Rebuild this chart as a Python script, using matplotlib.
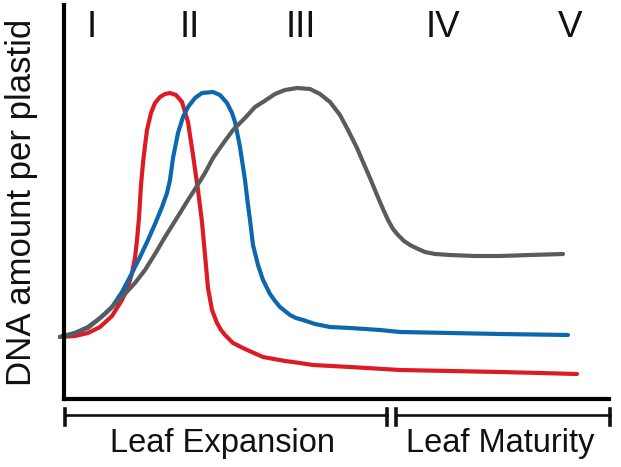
import matplotlib.pyplot as plt

plt.rcParams['font.family'] = ['Liberation Sans', 'DejaVu Sans']

# leaf age (arbitrary units) vs DNA amount per plastid (arbitrary units)
red_x = [60, 75, 88, 100, 112, 122, 128, 132, 135, 137, 139, 141, 143, 145, 147, 151, 155, 160, 165, 170,
         176, 182, 188, 193, 198, 202, 205, 208, 212, 217, 221, 225, 229, 233, 239, 245, 254, 263, 274, 285,
         300, 313, 350, 400, 450, 500, 540, 577]
red_y = [62, 63, 66, 72, 83, 99, 112, 126, 141, 159, 181, 214, 236, 253, 269, 286, 296, 302, 305, 306,
         304, 297, 277, 244, 209, 177, 144, 111, 89, 76, 69, 64, 60, 56, 53, 50, 46, 42, 40, 38,
         36, 34, 32, 29, 28, 27, 26, 25]

blue_x = [60, 75, 88, 100, 112, 122, 132, 140, 148, 155, 162, 167, 170, 173, 178, 183, 188, 195, 202, 213,
          220, 227, 232, 235, 240, 245, 248, 250, 253, 258, 263, 270, 275, 280, 285, 290, 296, 303, 315, 330,
          350, 380, 400, 450, 500, 568]
blue_y = [62, 66, 72, 81, 92, 107, 126, 142, 159, 175, 192, 206, 219, 241, 266, 282, 292, 301, 306, 307,
          304, 296, 286, 277, 252, 219, 194, 179, 154, 134, 119, 105, 98, 92, 88, 84, 81, 79, 75, 72,
          71, 69, 67, 66, 65, 64]

gray_x = [60, 75, 88, 105, 122, 135, 145, 155, 165, 180, 188, 197, 205, 213, 222, 233, 245, 255, 263, 275,
          285, 297, 310, 320, 330, 340, 348, 357, 363, 370, 377, 383, 388, 393, 398, 404, 410, 416, 425, 435,
          450, 475, 500, 530, 563]
gray_y = [62, 66, 71, 85, 102, 116, 129, 145, 162, 186, 199, 213, 226, 241, 254, 269, 281, 292, 297, 305,
          309, 311, 310, 305, 297, 284, 269, 251, 237, 221, 204, 190, 179, 170, 164, 158, 154, 151, 147, 145,
          144, 143, 143, 144, 145]

stage_labels = ["I", "II", "III", "IV", "V"]
stage_x = [92, 190, 301, 443, 570]

phase_labels = ["Leaf Expansion", "Leaf Maturity"]
phase_start = [65, 396]
phase_end = [387, 610]

fig = plt.figure(figsize=(6.21, 4.67), dpi=100)
ax = fig.add_axes([64 / 621, 1 - 399 / 467, (609 - 64) / 621, (399 - 5) / 467])

kw = dict(lw=3.0, solid_capstyle='round', solid_joinstyle='round', clip_on=False)
ax.plot(red_x, red_y, color="#dc1b24", **kw)
ax.plot(blue_x, blue_y, color="#0d67ae", **kw)
ax.plot(gray_x, gray_y, color="#5b5b5b", **kw)

ax.set_xlim(64, 609)
ax.set_ylim(0, 394)
ax.set_xticks([])
ax.set_yticks([])
for s in ["top", "right"]:
    ax.spines[s].set_visible(False)
for s in ["left", "bottom"]:
    ax.spines[s].set_linewidth(3.0)
    ax.spines[s].set_color("black")
    ax.spines[s].set_capstyle('projecting')

for lab, x in zip(stage_labels, stage_x):
    ax.text(x, 362, lab, ha='center', va='baseline', fontsize=26.5, color="#111111")

trans = ax.get_xaxis_transform()
for lab, x0, x1 in zip(phase_labels, phase_start, phase_end):
    ax.plot([x0, x1], [-0.0406, -0.0406], color="#111111", lw=1.9, transform=trans, clip_on=False)
    ax.plot([x0, x0], [-0.066, -0.025], color="#111111", lw=2.6, transform=trans, clip_on=False)
    ax.plot([x1, x1], [-0.066, -0.025], color="#111111", lw=2.6, transform=trans, clip_on=False)
    ax.text((x0 + x1) / 2 - 3, -0.1345, lab, ha='center', va='baseline', fontsize=23.5,
            color="#111111", transform=trans)

fig.text(22 / 621, 1 - 202 / 467, "DNA amount per plastid", rotation=90,
         ha='center', va='center', fontsize=25, color="#111111")

fig.savefig("out.png", dpi=100)
